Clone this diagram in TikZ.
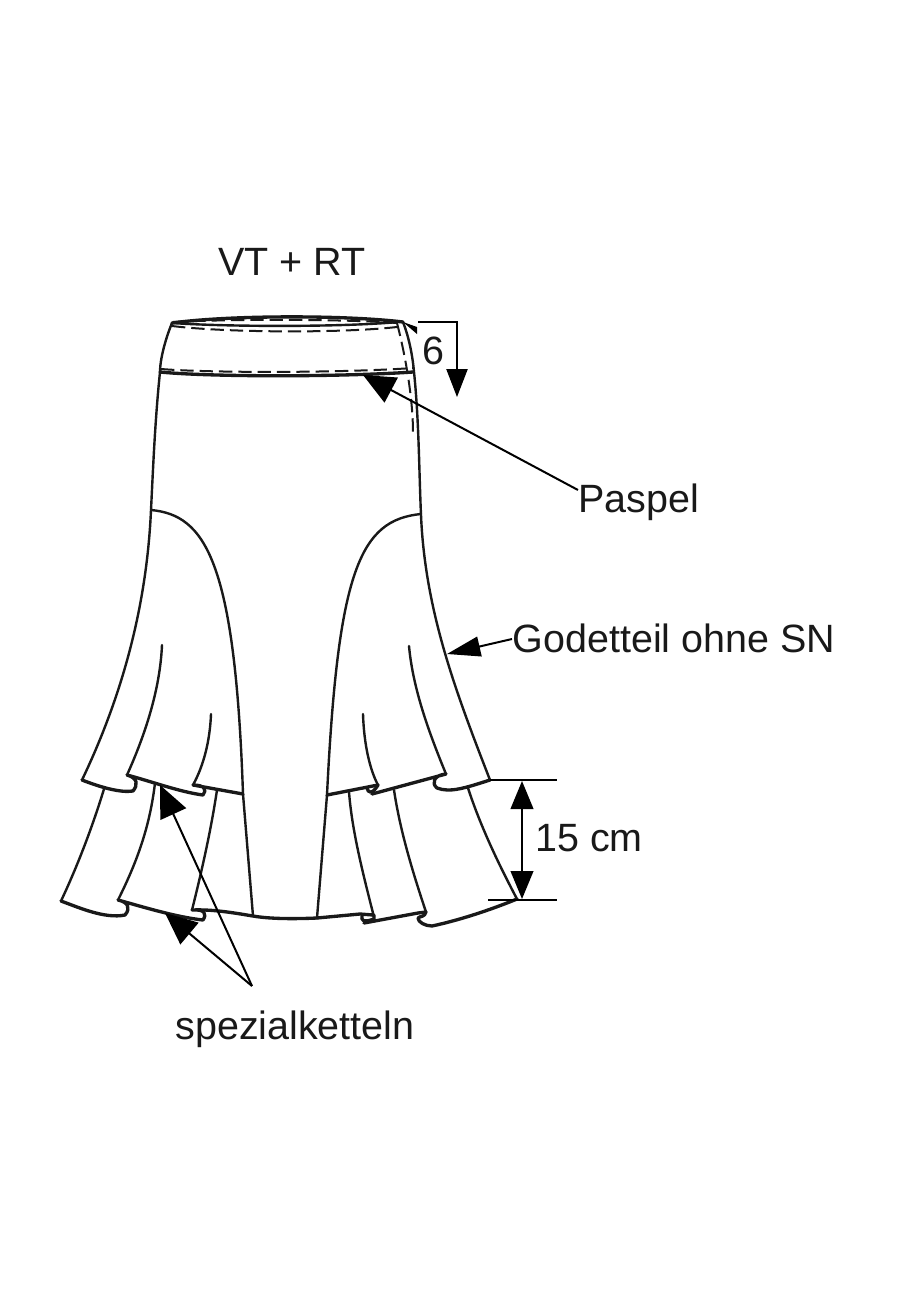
\documentclass[tikz,border=0pt]{standalone}
\usepackage{fontspec}
\setmainfont{Liberation Sans}
\usetikzlibrary{arrows.meta}
\tikzset{
  outline/.style={line width=1.8pt,line join=round,line cap=round,black!90},
  hem/.style={line width=2.5pt,line join=round,line cap=round,black!90},
  seam/.style={line width=1.5pt,dash pattern=on 10pt off 4.5pt,black!90},
  thinline/.style={line width=0.9pt,black},
  label/.style={font=\fontsize{29.6pt}{31pt}\selectfont,inner sep=0pt,text=black!90},
  pointer/.style={line width=1.5pt,black,-{Triangle[length=24pt,width=21pt]}},
  dimen/.style={line width=1.5pt,black,{Triangle[length=21pt,width=17pt]}-{Triangle[length=21pt,width=17pt]}}
}
\begin{document}
\begin{tikzpicture}[x=0.75pt,y=-0.75pt]
\useasboundingbox (0,0) rectangle (899,1300);
\fill[white] (0,0) rectangle (899,1300);
% sides
\draw[outline] (172,323) .. controls (165,340) and (160,360) .. (160,372)
   .. controls (155,420) and (153,470) .. (151,510)
   .. controls (147,600) and (125,690) .. (82,780);
\draw[outline] (403,322) .. controls (410,340) and (413,360) .. (414,372)
   .. controls (419,420) and (419,470) .. (421,515)
   .. controls (425,610) and (455,690) .. (490,780);
% waistband
\draw[hem] (172,323) .. controls (230,315) and (345,315) .. (403,322);
\draw[outline] (172,323) .. controls (230,327) and (345,327) .. (398,322);
\draw[hem] (160,372) .. controls (210,377) and (340,377) .. (413,372);
\draw[seam] (173,322) .. controls (230,319) and (345,319) .. (397,323);
\draw[seam] (172,326) .. controls (230,333) and (345,333) .. (397,327);
\draw[seam] (161,369) .. controls (210,373) and (340,373) .. (413,368);
\draw[seam] (397,323) .. controls (404,350) and (413,395) .. (413,433) -- (417,434);
% seams of the centre panel
\draw[outline] (151,510) .. controls (205,515) and (235,560) .. (243,794) -- (253,916);
\draw[outline] (421,514) .. controls (360,520) and (338,570) .. (327,795) -- (317,918);
% upper tier, left
\draw[hem] (82,780) .. controls (100,787) and (120,793) .. (133,791)
   .. controls (138,785) and (138,778) .. (127,775)
   .. controls (150,781) and (180,792) .. (203,795)
   .. controls (207,790) and (205,785) .. (193,785) -- (243,794);
\draw[outline] (162,645) .. controls (160,690) and (145,735) .. (127,775);
\draw[outline] (211,714) .. controls (210,740) and (204,765) .. (193,785);
% upper tier, right
\draw[hem] (327,795) -- (378,785);
\draw[hem] (367,788) .. controls (368,793) and (372,795) .. (378,785);
\draw[hem] (372,794) -- (446,774) .. controls (434,775) and (431,783) .. (437,788)
   .. controls (450,793) and (465,788) .. (490,780);
\draw[outline] (363,714) .. controls (364,745) and (370,770) .. (378,785);
\draw[outline] (409,646) .. controls (413,690) and (430,735) .. (446,774);
% lower tier, left
\draw[outline] (104,789) .. controls (93,825) and (78,865) .. (61,901);
\draw[hem] (61,901) .. controls (80,908) and (105,919) .. (125,915)
   .. controls (131,908) and (128,902) .. (118,900)
   .. controls (140,906) and (175,917) .. (203,920)
   .. controls (207,914) and (205,909) .. (192,910)
   .. controls (215,909) and (240,914) .. (253,916)
   .. controls (270,919) and (295,919) .. (317,918);
\draw[outline] (155,783) .. controls (150,825) and (138,860) .. (118,900);
\draw[outline] (217,790) .. controls (211,830) and (202,870) .. (192,910);
% lower tier, right
\draw[hem] (317,918) -- (360,914) -- (373,915);
\draw[hem] (362,916) .. controls (361,920) and (363,923) .. (374,919) -- (374,915);
\draw[hem] (364,923) -- (418,913) -- (426,912);
\draw[hem] (426,912) .. controls (425,917) and (420,916) .. (418,918)
   .. controls (418,922) and (425,926) .. (432,926)
   .. controls (460,920) and (490,910) .. (517,899);
\draw[outline] (349,792) .. controls (352,830) and (362,870) .. (374,917);
\draw[outline] (394,790) .. controls (400,830) and (412,870) .. (426,912);
\draw[outline] (468,788) .. controls (480,825) and (498,863) .. (517,899);
% labels
\node[label] (title) at (292,262) {VT + RT};
\node[label] (six) at (433,351) {6};
\node[label] (paspel) at (639,502) {Paspel};
\node[label] (godet) at (674,638) {Godetteil ohne SN};
\node[label] (fifteen) at (589,838) {15 cm};
\node[label] (spezial) at (295,1029) {spezialketteln};
% pointers
\coordinate (paspelTip) at (363,375);
\coordinate (paspelEnd) at (578,490);
\draw[pointer] (paspelEnd) -- (paspelTip);
\coordinate (godetTip) at (447,654);
\coordinate (godetEnd) at (512,639);
\draw[pointer,-{Triangle[length=25pt,width=15pt]}] (godetEnd) -- (godetTip);
\coordinate (fork) at (252,986);
\coordinate (forkTipA) at (160,785);
\coordinate (forkTipB) at (165,913);
\draw[pointer] (fork) -- (forkTipA);
\draw[pointer] (fork) -- (forkTipB);
% dimension 6
\coordinate (sixStart) at (418,322);
\coordinate (sixCorner) at (457,322);
\coordinate (sixEnd) at (457,397);
\draw[thinline,-{Triangle[length=21pt,width=16pt]}] (sixStart) -- (sixCorner) -- (sixEnd);
\coordinate (wTip) at (403,322);
\coordinate (wA) at (417,327);
\coordinate (wB) at (417,334);
\fill[black] (wTip) -- (wA) -- (wB) -- cycle;
% dimension 15 cm
\coordinate (dimTopL) at (490,780);
\coordinate (dimTopR) at (557,780);
\coordinate (dimBotL) at (488,900);
\coordinate (dimBotR) at (557,900);
\draw[thinline] (dimTopL) -- (dimTopR);
\draw[thinline] (dimBotL) -- (dimBotR);
\coordinate (dimA) at (522,781);
\coordinate (dimB) at (522,899);
\draw[dimen] (dimA) -- (dimB);
\end{tikzpicture}
\end{document}
